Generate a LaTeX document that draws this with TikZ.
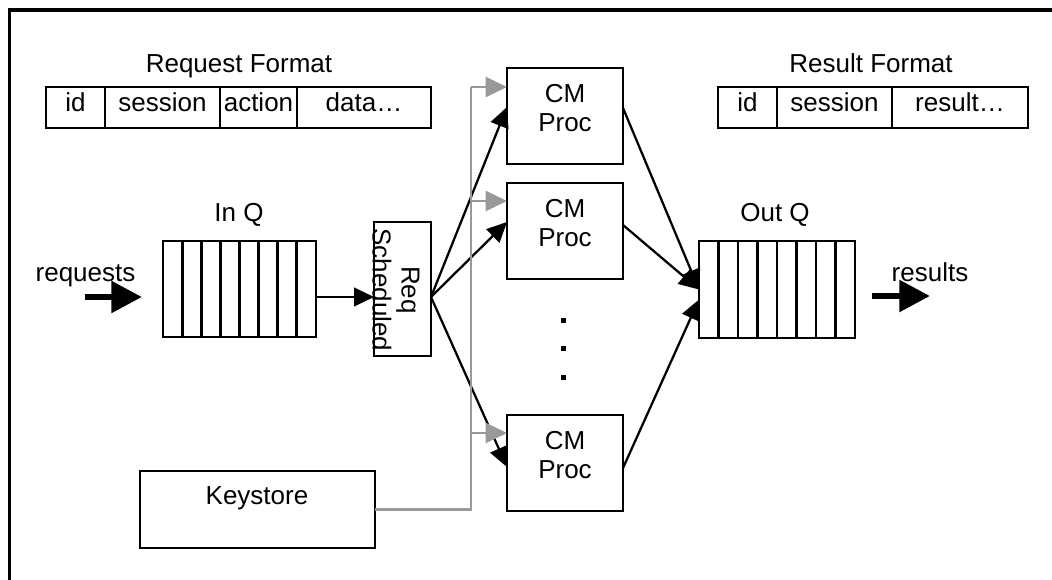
\documentclass[tikz,border=0pt]{standalone}
\usepackage{fontspec}
\setmainfont{Liberation Sans}
\usetikzlibrary{arrows.meta}
\definecolor{kgray}{RGB}{153,153,153}
\begin{document}
\begin{tikzpicture}[x=0.75pt,y=-0.75pt,
  every node/.style={font=\fontsize{19.5}{21.75}\selectfont, inner sep=0pt, outer sep=0pt},
  box/.style={draw, line width=2.2pt},
  wh/.style 2 args={minimum width=#1*0.75pt, minimum height=#2*0.75pt},
  cell/.style={line width=2.2pt},
  lbl/.style={anchor=base},
  conn/.style={line width=1.7pt, -{Triangle[length=15pt,width=14pt]}},
  gline/.style={line width=1.7pt, draw=kgray},
  garrow/.style={line width=1.7pt, draw=kgray, -{Triangle[length=16pt,width=15pt]}, kgray},
  bigarrow/.style={line width=4.8pt, -{Triangle[length=23pt,width=23pt]}},
  dotsq/.style={fill=black}
]
\useasboundingbox (0,0) rectangle (1052,580);
% outer frame (only top and left edges visible)
\draw[line width=2.4pt, line join=miter] (9.5,580) -- (9.5,10) -- (1052,10);

% Request format
\node[lbl] (rqfmt) at (239,73) {Request Format};
\node[box, wh={385}{41}] (rq) at (238.5,107.5) {};
\foreach \x in {105,220,297} \draw[cell] (\x,87) -- (\x,128);
\node[lbl] (rqid) at (75.5,112) {id};
\node[lbl] (rqses) at (162.5,112) {session};
\node[lbl] (rqact) at (258.5,112) {action};
\node[lbl] (rqdat) at (364,112) {data…};

% Result format
\node[lbl] (rsfmt) at (871,73) {Result Format};
\node[box, wh={310}{41}] (rs) at (873,107.5) {};
\foreach \x in {777,892} \draw[cell] (\x,87) -- (\x,128);
\node[lbl] (rsid) at (747.5,112) {id};
\node[lbl] (rsses) at (834.5,112) {session};
\node[lbl] (rsres) at (960,112) {result…};

% In Q
\node[lbl] (inqlbl) at (239,222) {In Q};
\node[box, wh={153}{96}] (inq) at (239.5,289) {};
\foreach \i in {1,...,7} \draw[cell] (163+\i*19.125,241) -- (163+\i*19.125,337);

% Out Q
\node[lbl] (outqlbl) at (775,222) {Out Q};
\node[box, wh={156}{97}] (outq) at (777,289.5) {};
\foreach \i in {1,...,7} \draw[cell] (699+\i*19.5,241) -- (699+\i*19.5,338);

% Req Scheduled
\node[box, wh={57}{134}] (req) at (402.5,289) {};
\node[rotate=-90, align=center] (reqtxt) at (396,290) {Req\\Scheduled};

% CM Proc boxes
\node[box, wh={116}{96}] (cm1) at (565,116) {};
\node[box, wh={116}{96}] (cm2) at (565,231) {};
\node[box, wh={116}{96}] (cm3) at (565,463) {};
\node[anchor=north, align=center] (cm1t) at (565,84) {CM\\Proc};
\node[anchor=north, align=center] (cm2t) at (565,199) {CM\\Proc};
\node[anchor=north, align=center] (cm3t) at (565,431) {CM\\Proc};

% dots
\foreach \y in {321,349,378} \fill[dotsq] (561,\y-2.5) rectangle (566,\y+2.5);

% Keystore
\node[box, wh={235}{77}] (ks) at (257.5,509.5) {};
\node[lbl] (kstxt) at (257,504) {Keystore};

% requests / results
\node[lbl] (reqlbl) at (85.5,282) {requests};
\coordinate (rqa) at (85,297);
\coordinate (rqb) at (142,297);
\draw[bigarrow] (rqa) -- (rqb);
\node[lbl] (reslbl) at (930,282) {results};
\coordinate (rsa) at (872,296);
\coordinate (rsb) at (930,296);
\draw[bigarrow] (rsa) -- (rsb);

% black connectors
\draw[conn] ([yshift=-6pt]inq.east) -- ([yshift=-6pt]req.west);
\draw[conn] ([yshift=-6pt]req.east) -- ([yshift=6.75pt]cm1.west);
\draw[conn] ([yshift=-6pt]req.east) -- ([yshift=6.75pt]cm2.west);
\draw[conn] ([yshift=-6pt]req.east) -- ([yshift=-3pt]cm3.west);
\draw[conn] ([yshift=6pt]cm1.east) -- (outq.west);
\draw[conn] ([yshift=4.5pt]cm2.east) -- (outq.west);
\draw[conn] ([yshift=-3.75pt]cm3.east) -- ([yshift=-7.5pt]outq.west);

% gray keystore bus
\coordinate (bus1) at (471,87);
\coordinate (bus2) at (471,201);
\coordinate (bus3) at (471,433);
\draw[gline] (ks.east) -| (bus1);
\draw[garrow] (bus1) -- (cm1.west |- bus1);
\draw[garrow] (bus2) -- (cm2.west |- bus2);
\draw[garrow] (bus3) -- (cm3.west |- bus3);
\end{tikzpicture}
\end{document}
